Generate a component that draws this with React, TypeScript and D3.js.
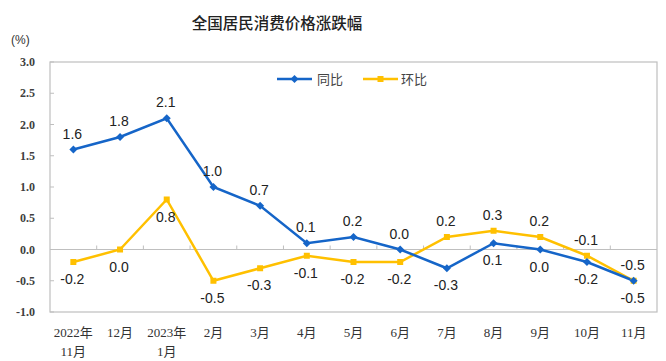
import React from "react";
import * as d3 from "d3";

const months = ["2022年\n11月", "12月", "2023年\n1月", "2月", "3月", "4月", "5月", "6月", "7月", "8月", "9月", "10月", "11月"];
const yoy = [1.6, 1.8, 2.1, 1.0, 0.7, 0.1, 0.2, 0.0, -0.3, 0.1, 0.0, -0.2, -0.5];
const mom = [-0.2, 0.0, 0.8, -0.5, -0.3, -0.1, -0.2, -0.2, 0.2, 0.3, 0.2, -0.1, -0.5];
const yoyLabelAbove = [true, true, true, true, true, true, true, true, false, false, false, false, false];
const momLabelAbove = [false, false, false, false, false, false, false, false, true, true, true, true, true];
const yTicks = [3.0, 2.5, 2.0, 1.5, 1.0, 0.5, 0.0, -0.5, -1.0];

const W = 666, H = 361;
const L = 50, R = 657, T = 62, B = 312;
const BLUE = "#1565C8";
const YELLOW = "#FFC000";

export default function App() {
  const x = d3.scaleBand<number>().domain(d3.range(months.length)).range([L, R]);
  const y = d3.scaleLinear().domain([-1, 3]).range([B, T]);
  const cx = (i: number) => (x(i) as number) + x.bandwidth() / 2;
  const line = d3.line<number>().x((_, i) => cx(i)).y((d) => y(d));
  const serif = "'Liberation Serif', 'Times New Roman', 'Noto Sans CJK SC', serif";
  const sans = "'Liberation Sans', Arial, sans-serif";
  return (
    <svg width={W} height={H} style={{ position: "absolute", left: 0, top: 0, background: "#fff" }}>
      <text x={277} y={29} textAnchor="middle" fontSize={15.5} fontWeight={500} fontFamily="'Noto Sans CJK SC', sans-serif" fill="#222">全国居民消费价格涨跌幅</text>
      <text x={11} y={44} fontSize={12} fontFamily={sans} fill="#333">(%)</text>
      <rect x={L} y={T} width={R - L} height={B - T} fill="none" stroke="#bfbfbf" strokeWidth={1.2} />
      {yTicks.map((t) => (
        <g key={t}>
          <line x1={L} x2={L + 4} y1={y(t)} y2={y(t)} stroke="#bfbfbf" />
          <text x={35} y={y(t) + 4} textAnchor="end" fontSize={12} fontWeight="bold" fontFamily={serif} fill="#404040">{t.toFixed(1)}</text>
        </g>
      ))}
      <line x1={L} x2={R} y1={y(0)} y2={y(0)} stroke="#bfbfbf" strokeWidth={1.2} />
      {d3.range(1, months.length).map((i) => (
        <line key={i} x1={x(i) as number} x2={x(i) as number} y1={y(0)} y2={y(0) - 4} stroke="#bfbfbf" />
      ))}
      {months.map((m, i) => (
        <text key={i} x={cx(i)} y={337} textAnchor="middle" fontSize={13} fontFamily={serif} fill="#333">
          {m.split("\n").map((s, j) => (
            <tspan key={j} x={cx(i)} dy={j === 0 ? 0 : 19}>{s}</tspan>
          ))}
        </text>
      ))}
      <path d={line(mom) || ""} fill="none" stroke={YELLOW} strokeWidth={2.5} />
      <path d={line(yoy) || ""} fill="none" stroke={BLUE} strokeWidth={2.5} />
      {mom.map((v, i) => (
        <rect key={i} x={cx(i) - 3} y={y(v) - 3} width={6} height={6} fill={YELLOW} />
      ))}
      {yoy.map((v, i) => (
        <path key={i} d={`M${cx(i)},${y(v) - 4}L${cx(i) + 4},${y(v)}L${cx(i)},${y(v) + 4}L${cx(i) - 4},${y(v)}Z`} fill={BLUE} />
      ))}
      {yoy.map((v, i) => (
        <text key={i} x={cx(i) - 1} y={yoyLabelAbove[i] ? y(v) - 11 : y(v) + 22} textAnchor="middle" fontSize={14} fontFamily={sans} fill="#222">{v.toFixed(1)}</text>
      ))}
      {mom.map((v, i) => (
        <text key={i} x={cx(i) - 1} y={momLabelAbove[i] ? y(v) - 11 : y(v) + 22} textAnchor="middle" fontSize={14} fontFamily={sans} fill="#222">{v.toFixed(1)}</text>
      ))}
      <line x1={277} x2={312} y1={79} y2={79} stroke={BLUE} strokeWidth={2.5} />
      <path d="M294.5,75L298.5,79L294.5,83L290.5,79Z" fill={BLUE} />
      <text x={317} y={84} fontSize={13} fontFamily="'Noto Sans CJK SC', sans-serif" fill="#444">同比</text>
      <line x1={363} x2={398} y1={79} y2={79} stroke={YELLOW} strokeWidth={2.5} />
      <rect x={377.5} y={76} width={6} height={6} fill={YELLOW} />
      <text x={401} y={84} fontSize={13} fontFamily="'Noto Sans CJK SC', sans-serif" fill="#444">环比</text>
    </svg>
  );
}
